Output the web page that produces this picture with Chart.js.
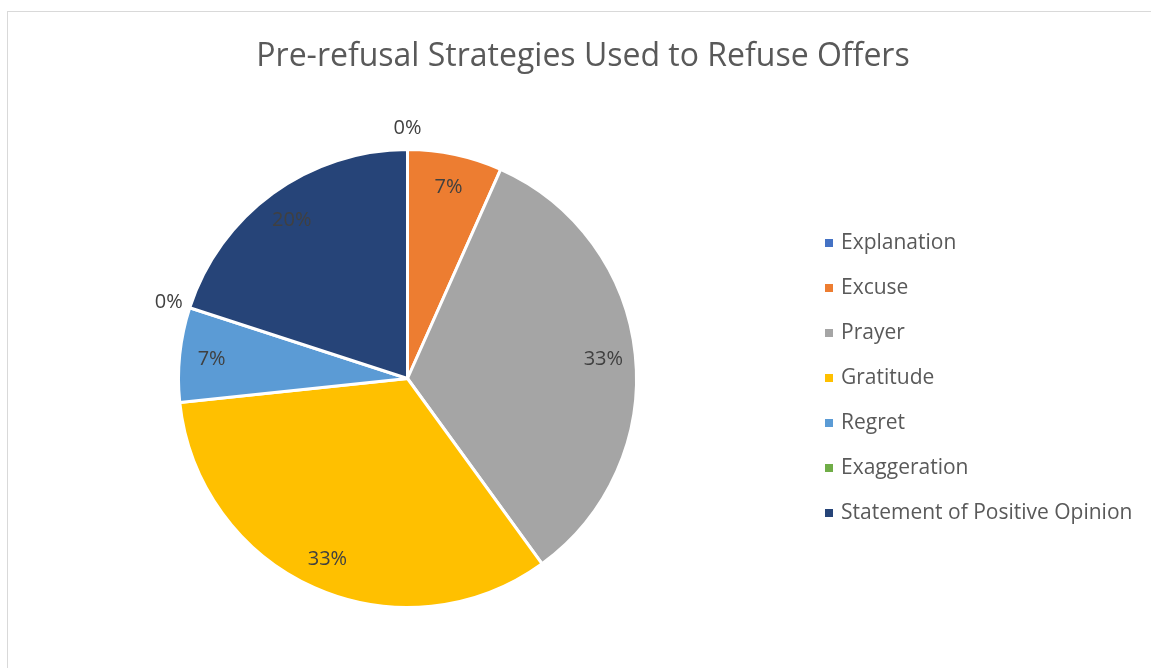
<!DOCTYPE html>
<html>
<head>
<meta charset="utf-8">
<title>Pre-refusal Strategies</title>
<script src="https://cdn.jsdelivr.net/npm/chart.js@4"></script>
<style>
  body { margin: 0; background: #fff; }
  canvas { display: block; }
</style>
</head>
<body>
<canvas id="pie-chart" width="1151" height="668"></canvas>
<script>
const categories = ["Explanation", "Excuse", "Prayer", "Gratitude", "Regret", "Exaggeration", "Statement of Positive Opinion"];
const shares = [0, 6.67, 33.33, 33.33, 6.67, 0, 20]; // percent of pre-refusals
const sliceColors = ["#4472c4", "#ed7d31", "#a5a5a5", "#ffc000", "#5b9bd5", "#70ad47", "#264478"];
const chartTitle = "Pre-refusal Strategies Used to Refuse Offers";

const FONT = "'Open Sans', sans-serif";

// frame + title behind the pie, percent labels + legend on top
const decorations = {
  id: "decorations",
  beforeDraw(chart) {
    const ctx = chart.ctx;
    ctx.save();
    ctx.strokeStyle = "#d9d9d9";
    ctx.lineWidth = 1;
    ctx.strokeRect(7.5, 11.5, chart.width, chart.height);
    ctx.fillStyle = "#595959";
    ctx.font = "32px " + FONT;
    ctx.textAlign = "center";
    ctx.textBaseline = "middle";
    ctx.fillText(chartTitle, 583, 57);
    ctx.restore();
  },
  afterDraw(chart) {
    const ctx = chart.ctx;
    const arcs = chart.getDatasetMeta(0).data;
    ctx.save();
    ctx.font = "20px " + FONT;
    ctx.textAlign = "center";
    ctx.textBaseline = "middle";
    ctx.fillStyle = "#404040";
    arcs.forEach((arc, i) => {
      const mid = (arc.startAngle + arc.endAngle) / 2;
      // empty slices get their label just outside the rim
      const r = shares[i] === 0 ? arc.outerRadius + 22 : arc.outerRadius * 0.86;
      ctx.fillText(Math.round(shares[i]) + "%", arc.x + Math.cos(mid) * r, arc.y + Math.sin(mid) * r + 1);
    });

    ctx.font = "21px " + FONT;
    ctx.textAlign = "left";
    categories.forEach((name, i) => {
      const y = 243 + i * 45;
      ctx.fillStyle = sliceColors[i];
      ctx.fillRect(825, y - 4, 8, 8);
      ctx.fillStyle = "#595959";
      ctx.fillText(name, 841, y);
    });
    ctx.restore();
  }
};

const ctx = document.getElementById("pie-chart").getContext("2d");
new Chart(ctx, {
  type: "pie",
  data: {
    labels: categories,
    datasets: [
      {
        data: shares,
        backgroundColor: sliceColors,
        borderColor: "#ffffff",
        borderWidth: 3,
      },
    ],
  },
  options: {
    responsive: false,
    animation: false,
    layout: {
      padding: { left: 177, top: 148, right: 513, bottom: 59 },
    },
    plugins: {
      legend: { display: false },
      title: { display: false },
      tooltip: { enabled: false },
    },
  },
  plugins: [decorations],
});
</script>
</body>
</html>
